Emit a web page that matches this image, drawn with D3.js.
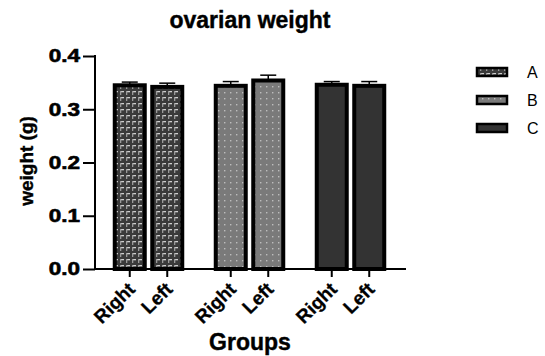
<!DOCTYPE html>
<html lang="en">
<head>
<meta charset="UTF-8">
<title>ovarian weight</title>
<style>
  body { margin: 0; background: #fff; }
  svg text { font-family: "Liberation Sans", Arial, sans-serif; fill: #000; }
  .bold { font-weight: bold; stroke: #000; stroke-width: 0.4px; }
  .tick-y text { font-size: 18px; font-weight: bold; stroke: #000; stroke-width: 0.6px; }
  .tick-x text { font-size: 19px; font-weight: bold; stroke: #000; stroke-width: 0.3px; }
  .legend text { font-size: 16px; font-weight: normal; }
</style>
</head>
<body>
<svg id="chart" width="545" height="356"></svg>
<script src="https://cdn.jsdelivr.net/npm/d3@7/dist/d3.min.js"></script>
<script>
  // data
  const groups = ["A", "B", "C"];
  const sides = ["Right", "Left"];
  const means = [
    [0.345, 0.342],
    [0.344, 0.354],
    [0.346, 0.344]
  ];
  const errs = [
    [0.006, 0.007],
    [0.008, 0.010],
    [0.006, 0.008]
  ];
  const yTicks = [0.0, 0.1, 0.2, 0.3, 0.4];

  const svg = d3.select("#chart");
  const defs = svg.append("defs");

  // pattern for A: dark with light dashes
  const pA = defs.append("pattern").attr("id", "patA")
    .attr("patternUnits", "userSpaceOnUse").attr("width", 6).attr("height", 6);
  pA.append("rect").attr("width", 6).attr("height", 6).attr("fill", "#3a3a3a");
  pA.append("rect").attr("x", 0).attr("y", 1).attr("width", 4).attr("height", 1.3).attr("fill", "#cfcfcf");
  pA.append("rect").attr("x", 0).attr("y", 1).attr("width", 1.3).attr("height", 4).attr("fill", "#9a9a9a");

  // pattern for B: gray with light dots
  const pB = defs.append("pattern").attr("id", "patB")
    .attr("patternUnits", "userSpaceOnUse").attr("width", 6).attr("height", 6);
  pB.append("rect").attr("width", 6).attr("height", 6).attr("fill", "#7a7a7a");
  pB.append("rect").attr("x", 2).attr("y", 2).attr("width", 1.4).attr("height", 1.4).attr("fill", "#bdbdbd");

  const fills = { A: "url(#patA)", B: "url(#patB)", C: "#333333" };

  const y = d3.scaleLinear().domain([0, 0.4]).range([269, 56]);
  const x0 = d3.scalePoint().domain(groups).range([148.5, 350.5]);
  const x1 = d3.scaleBand().domain(sides).range([-37.5, 37.5]);
  const barW = 30;

  // bars
  groups.forEach((g, gi) => {
    sides.forEach((s, si) => {
      const cx = x0(g) + x1(s) + x1.bandwidth() / 2;
      const v = means[gi][si], e = errs[gi][si];
      svg.append("line")
        .attr("x1", cx).attr("x2", cx)
        .attr("y1", y(v)).attr("y2", y(v + e))
        .attr("stroke", "#000").attr("stroke-width", 1.5);
      svg.append("line")
        .attr("x1", cx - 8).attr("x2", cx + 8)
        .attr("y1", y(v + e)).attr("y2", y(v + e))
        .attr("stroke", "#000").attr("stroke-width", 1.5);
      svg.append("rect")
        .attr("x", cx - barW / 2).attr("y", y(v))
        .attr("width", barW).attr("height", y(0) - y(v))
        .attr("fill", fills[g])
        .attr("stroke", "#000").attr("stroke-width", 4);
    });
  });

  // y axis
  const yAxis = svg.append("g").attr("class", "tick-y")
    .attr("transform", "translate(95,0)")
    .call(d3.axisLeft(y).tickValues(yTicks).tickFormat(d3.format(".1f")).tickSize(12).tickPadding(3));
  yAxis.select(".domain").attr("stroke-width", 2).attr("d", "M0,55V270");
  yAxis.selectAll(".tick line").attr("stroke-width", 2);
  yAxis.attr("font-family", null).attr("font-size", null);
  // labels in the reference are wide and heavy
  yAxis.selectAll(".tick text").attr("x", 0).attr("transform", "translate(-15,0) scale(1.25,1)");

  // x axis
  const xPos = [];
  groups.forEach(g => sides.forEach(s => xPos.push({ g, s, x: x0(g) + x1(s) + x1.bandwidth() / 2 })));
  const xAxis = svg.append("g").attr("class", "tick-x");
  xAxis.append("line").attr("x1", 94).attr("x2", 406).attr("y1", 269).attr("y2", 269)
    .attr("stroke", "#000").attr("stroke-width", 2);
  xPos.forEach(p => {
    xAxis.append("line").attr("x1", p.x).attr("x2", p.x).attr("y1", 269).attr("y2", 277)
      .attr("stroke", "#000").attr("stroke-width", 2);
    xAxis.append("text")
      .attr("transform", `translate(${p.x - 3},${281}) rotate(-45)`)
      .attr("text-anchor", "end").attr("dy", "0.7em")
      .text(p.s);
  });

  // titles
  svg.append("text").attr("class", "bold").attr("x", 250).attr("y", 28)
    .attr("text-anchor", "middle").attr("font-size", 23).text("ovarian weight");
  svg.append("text").attr("class", "bold").attr("transform", "translate(33,161) rotate(-90)")
    .attr("text-anchor", "middle").attr("font-size", 19).text("weight (g)");
  svg.append("text").attr("class", "bold").attr("x", 250).attr("y", 350).attr("text-anchor", "middle")
    .attr("font-size", 23).text("Groups");

  // legend
  const legend = svg.append("g").attr("class", "legend");
  groups.forEach((g, i) => {
    const ly = 72 + i * 28;
    legend.append("rect").attr("x", 477).attr("y", ly - 4).attr("width", 30).attr("height", 8)
      .attr("fill", fills[g]).attr("stroke", "#000").attr("stroke-width", 2.5);
    legend.append("text").attr("x", 527).attr("y", ly).attr("dy", "0.36em").text(g);
  });
</script>
</body>
</html>
